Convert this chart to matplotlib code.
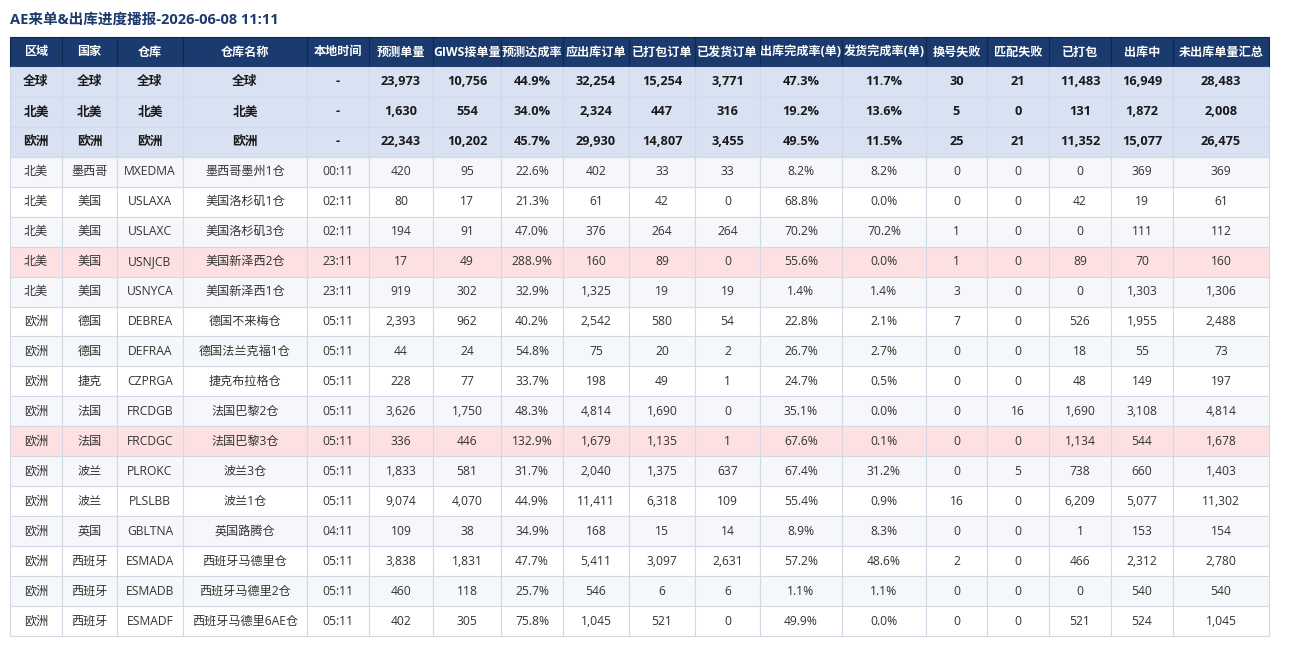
import matplotlib.pyplot as plt

plt.rcParams['font.family'] = ['Open Sans', 'Noto Sans CJK SC', 'DejaVu Sans']

title = 'AE来单&出库进度播报-2026-06-08 11:11'

headers = ['区域', '国家', '仓库', '仓库名称', '本地时间', '预测单量', 'GIWS接单量', '预测达成率',
           '应出库订单', '已打包订单', '已发货订单', '出库完成率(单)', '发货完成率(单)',
           '换号失败', '匹配失败', '已打包', '出库中', '未出库单量汇总']

# summary rows first, then one row per warehouse
region = ['全球', '北美', '欧洲',
          '北美', '北美', '北美', '北美', '北美',
          '欧洲', '欧洲', '欧洲', '欧洲', '欧洲', '欧洲', '欧洲', '欧洲', '欧洲', '欧洲', '欧洲']
country = ['全球', '北美', '欧洲',
           '墨西哥', '美国', '美国', '美国', '美国',
           '德国', '德国', '捷克', '法国', '法国', '波兰', '波兰', '英国', '西班牙', '西班牙', '西班牙']
warehouse = ['全球', '北美', '欧洲',
             'MXEDMA', 'USLAXA', 'USLAXC', 'USNJCB', 'USNYCA',
             'DEBREA', 'DEFRAA', 'CZPRGA', 'FRCDGB', 'FRCDGC', 'PLROKC', 'PLSLBB', 'GBLTNA',
             'ESMADA', 'ESMADB', 'ESMADF']
wh_name = ['全球', '北美', '欧洲',
           '墨西哥墨州1仓', '美国洛杉矶1仓', '美国洛杉矶3仓', '美国新泽西2仓', '美国新泽西1仓',
           '德国不来梅仓', '德国法兰克福1仓', '捷克布拉格仓', '法国巴黎2仓', '法国巴黎3仓',
           '波兰3仓', '波兰1仓', '英国路腾仓', '西班牙马德里仓', '西班牙马德里2仓', '西班牙马德里6AE仓']
local_time = ['-', '-', '-',
              '00:11', '02:11', '02:11', '23:11', '23:11',
              '05:11', '05:11', '05:11', '05:11', '05:11', '05:11', '05:11', '04:11',
              '05:11', '05:11', '05:11']
forecast = [23973, 1630, 22343, 420, 80, 194, 17, 919, 2393, 44, 228, 3626, 336, 1833, 9074, 109, 3838, 460, 402]
giws = [10756, 554, 10202, 95, 17, 91, 49, 302, 962, 24, 77, 1750, 446, 581, 4070, 38, 1831, 118, 305]
hit_rate = [44.9, 34.0, 45.7, 22.6, 21.3, 47.0, 288.9, 32.9, 40.2, 54.8, 33.7, 48.3, 132.9, 31.7, 44.9, 34.9,
            47.7, 25.7, 75.8]
to_ship = [32254, 2324, 29930, 402, 61, 376, 160, 1325, 2542, 75, 198, 4814, 1679, 2040, 11411, 168, 5411, 546, 1045]
packed_orders = [15254, 447, 14807, 33, 42, 264, 89, 19, 580, 20, 49, 1690, 1135, 1375, 6318, 15, 3097, 6, 521]
shipped_orders = [3771, 316, 3455, 33, 0, 264, 0, 19, 54, 2, 1, 0, 1, 637, 109, 14, 2631, 6, 0]
out_rate = [47.3, 19.2, 49.5, 8.2, 68.8, 70.2, 55.6, 1.4, 22.8, 26.7, 24.7, 35.1, 67.6, 67.4, 55.4, 8.9,
            57.2, 1.1, 49.9]
ship_rate = [11.7, 13.6, 11.5, 8.2, 0.0, 70.2, 0.0, 1.4, 2.1, 2.7, 0.5, 0.0, 0.1, 31.2, 0.9, 8.3, 48.6, 1.1, 0.0]
swap_fail = [30, 5, 25, 0, 0, 1, 1, 3, 7, 0, 0, 0, 0, 0, 16, 0, 2, 0, 0]
match_fail = [21, 0, 21, 0, 0, 0, 0, 0, 0, 0, 0, 16, 0, 5, 0, 0, 0, 0, 0]
packed = [11483, 131, 11352, 0, 42, 0, 89, 0, 526, 18, 48, 1690, 1134, 738, 6209, 1, 466, 0, 521]
in_progress = [16949, 1872, 15077, 369, 19, 111, 70, 1303, 1955, 55, 149, 3108, 544, 660, 5077, 153, 2312, 540, 524]
not_shipped = [28483, 2008, 26475, 369, 61, 112, 160, 1306, 2488, 73, 197, 4814, 1678, 1403, 11302, 154,
               2780, 540, 1045]

n_summary = 3

def num(v):
    return f'{v:,}'

def pct(v):
    return f'{v:.1f}%'

rows = []
for i in range(len(region)):
    rows.append([region[i], country[i], warehouse[i], wh_name[i], local_time[i],
                 num(forecast[i]), num(giws[i]), pct(hit_rate[i]), num(to_ship[i]),
                 num(packed_orders[i]), num(shipped_orders[i]), pct(out_rate[i]), pct(ship_rate[i]),
                 num(swap_fail[i]), num(match_fail[i]), num(packed[i]), num(in_progress[i]),
                 num(not_shipped[i])])

col_px = [52, 55, 66, 124, 62, 64, 68, 62, 66, 66, 65, 82, 84, 61, 62, 62, 62, 96]

W, H = 1300, 646
fig = plt.figure(figsize=(W / 100, H / 100), dpi=100)
ax = fig.add_axes([0, 0, 1, 1])
ax.axis('off')

fig.text(10 / W, 1 - 20 / H, title, fontsize=10.5, fontweight='bold', color='#1c3a6e',
         ha='left', va='center')

left, top, bottom = 10, 37, 636
tbl = ax.table(cellText=rows, colLabels=headers, colWidths=[w / sum(col_px) for w in col_px],
               cellLoc='center', loc='center',
               bbox=[left / W, (H - bottom) / H, sum(col_px) / W, (bottom - top) / H])
tbl.auto_set_font_size(False)

header_bg = '#1b3a6d'
summary_bg = '#d9e2f2'
stripe_bg = '#f5f7fb'
alert_bg = '#fde1e2'
grid = '#d3d8e4'

for (r, c), cell in tbl.get_celld().items():
    txt = cell.get_text()
    txt.set_fontsize(8.7)
    cell.set_linewidth(0.8)
    if r == 0:
        cell.set_facecolor(header_bg)
        cell.set_edgecolor('#10284f')
        txt.set_color('white')
        txt.set_fontweight('bold')
        continue
    i = r - 1
    cell.set_edgecolor(grid)
    if i < n_summary:
        cell.set_facecolor(summary_bg)
        txt.set_fontweight('bold')
        txt.set_color('#1a1a1a')
        txt.set_fontsize(9.2)
    else:
        j = i - n_summary
        if hit_rate[i] > 100:
            cell.set_facecolor(alert_bg)
        elif j % 2 == 0:
            cell.set_facecolor(stripe_bg)
        else:
            cell.set_facecolor('white')
        txt.set_color('#333333')

fig.savefig('out.png', dpi=100)
